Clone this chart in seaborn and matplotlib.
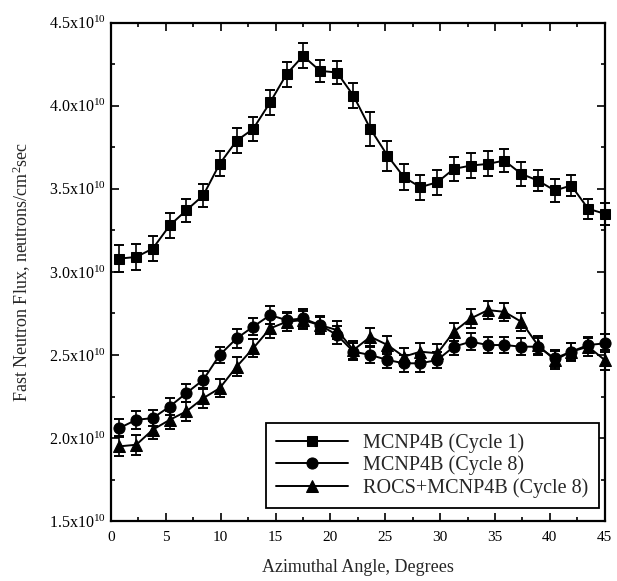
import pandas as pd
import matplotlib
matplotlib.use("Agg")
import matplotlib.pyplot as plt
from matplotlib.ticker import MultipleLocator, FixedLocator
import seaborn as sns

# ------------------------------------------------------------------
# Flujo de neutrones rápidos vs ángulo azimutal (valores en 1e10)
# ------------------------------------------------------------------
angulos = [0.75, 2.3, 3.8, 5.35, 6.85, 8.4, 9.9, 11.45, 12.95, 14.5,
           16.0, 17.5, 19.05, 20.6, 22.1, 23.65, 25.2, 26.7, 28.2, 29.75,
           31.25, 32.8, 34.35, 35.85, 37.4, 38.9, 40.45, 41.95, 43.5, 45.0]

ciclo1 = [3.08, 3.09, 3.14, 3.28, 3.37, 3.46, 3.65, 3.79, 3.86, 4.02,
          4.19, 4.30, 4.21, 4.20, 4.06, 3.86, 3.70, 3.57, 3.51, 3.54,
          3.62, 3.64, 3.65, 3.67, 3.59, 3.55, 3.49, 3.52, 3.38, 3.35]
err_ciclo1 = [0.083, 0.080, 0.075, 0.075, 0.070, 0.070, 0.075, 0.075, 0.070, 0.075,
              0.075, 0.075, 0.065, 0.070, 0.075, 0.105, 0.090, 0.080, 0.075, 0.075,
              0.070, 0.075, 0.075, 0.070, 0.070, 0.065, 0.070, 0.065, 0.060, 0.065]

ciclo8 = [2.06, 2.11, 2.12, 2.19, 2.27, 2.35, 2.50, 2.60, 2.67, 2.74,
          2.71, 2.72, 2.68, 2.62, 2.52, 2.50, 2.47, 2.45, 2.45, 2.47,
          2.55, 2.58, 2.56, 2.56, 2.55, 2.55, 2.48, 2.52, 2.56, 2.57]
err_ciclo8 = [0.055, 0.055, 0.050, 0.050, 0.055, 0.055, 0.050, 0.055, 0.050, 0.055,
              0.050, 0.055, 0.050, 0.055, 0.050, 0.050, 0.050, 0.050, 0.050, 0.050,
              0.050, 0.050, 0.050, 0.050, 0.050, 0.050, 0.050, 0.050, 0.050, 0.055]

rocs8 = [1.95, 1.96, 2.05, 2.11, 2.16, 2.24, 2.30, 2.43, 2.54, 2.66,
         2.70, 2.71, 2.68, 2.65, 2.53, 2.61, 2.56, 2.49, 2.52, 2.51,
         2.64, 2.72, 2.77, 2.76, 2.70, 2.56, 2.47, 2.52, 2.55, 2.47]
err_rocs8 = [0.060, 0.060, 0.055, 0.055, 0.055, 0.060, 0.055, 0.055, 0.055, 0.060,
             0.055, 0.055, 0.055, 0.055, 0.055, 0.055, 0.055, 0.055, 0.055, 0.055,
             0.055, 0.055, 0.055, 0.055, 0.055, 0.055, 0.055, 0.055, 0.055, 0.060]

series = ["MCNP4B (Cycle 1)", "MCNP4B (Cycle 8)", "ROCS+MCNP4B (Cycle 8)"]
marcadores = {series[0]: "s", series[1]: "o", series[2]: "^"}
tamanos = {series[0]: 7, series[1]: 8, series[2]: 8.5}

y_ticks = [1.5, 2.0, 2.5, 3.0, 3.5, 4.0, 4.5]
x_ticks = [0, 5, 10, 15, 20, 25, 30, 35, 40, 45]

# tabla larga para seaborn
df = pd.concat([
    pd.DataFrame({"angulo": angulos, "flujo": ciclo1, "err": err_ciclo1, "serie": series[0]}),
    pd.DataFrame({"angulo": angulos, "flujo": ciclo8, "err": err_ciclo8, "serie": series[1]}),
    pd.DataFrame({"angulo": angulos, "flujo": rocs8, "err": err_rocs8, "serie": series[2]}),
], ignore_index=True)

sns.set_theme(style="ticks")
plt.rcParams["font.family"] = ["Liberation Serif", "DejaVu Serif"]
plt.rcParams["mathtext.fontset"] = "custom"
plt.rcParams["mathtext.rm"] = "Liberation Serif"
plt.rcParams["mathtext.it"] = "Liberation Serif:italic"

fig = plt.figure(figsize=(6.17, 5.81), dpi=100)
ax = fig.add_axes([0.180, 0.103, 0.800, 0.858])

for s in series:
    d = df[df["serie"] == s]
    ax.errorbar(d["angulo"], d["flujo"], yerr=d["err"], fmt="none",
                ecolor="black", elinewidth=1.2, capsize=3.5, capthick=1.4,
                clip_on=False, zorder=2)
    sns.lineplot(data=d, x="angulo", y="flujo", ax=ax, color="black",
                 marker=marcadores[s], markersize=tamanos[s], markeredgecolor="black",
                 linewidth=1.4, label=s, clip_on=False, zorder=3,
                 estimator=None, sort=False)

ax.set_xlim(0, 45)
ax.set_ylim(1.5, 4.5)
ax.xaxis.set_major_locator(FixedLocator(x_ticks))
ax.xaxis.set_minor_locator(MultipleLocator(2.5))
ax.yaxis.set_major_locator(FixedLocator(y_ticks))
ax.yaxis.set_minor_locator(MultipleLocator(0.25))
ax.set_xticklabels([str(v) for v in x_ticks])
ax.set_yticklabels([f"{v:.1f}x10$^{{10}}$" for v in y_ticks])

ax.tick_params(which="both", direction="in", top=True, right=True, colors="black",
               width=1.2)
ax.tick_params(which="major", length=6)
ax.tick_params(which="minor", length=3)
ax.tick_params(axis="x", labelsize=11, pad=7)
ax.tick_params(axis="y", labelsize=11.5, pad=4)
for sp in ax.spines.values():
    sp.set_linewidth(1.6)
    sp.set_color("black")

ax.set_xlabel("Azimuthal Angle, Degrees", fontsize=13, labelpad=11)
ax.set_ylabel("Fast Neutron Flux, neutrons/cm$^2$sec", fontsize=13, labelpad=11)

handles, labels = ax.get_legend_handles_labels()
leg = ax.legend(handles, labels, loc="lower right", bbox_to_anchor=(0.996, 0.018),
                fontsize=14.5, handlelength=3.6, frameon=True, fancybox=False,
                edgecolor="black", borderpad=0.5, labelspacing=0.15,
                handletextpad=0.75, borderaxespad=0.2)
leg.get_frame().set_linewidth(1.3)
leg.get_frame().set_alpha(1)

fig.savefig("out.png", dpi=100)
